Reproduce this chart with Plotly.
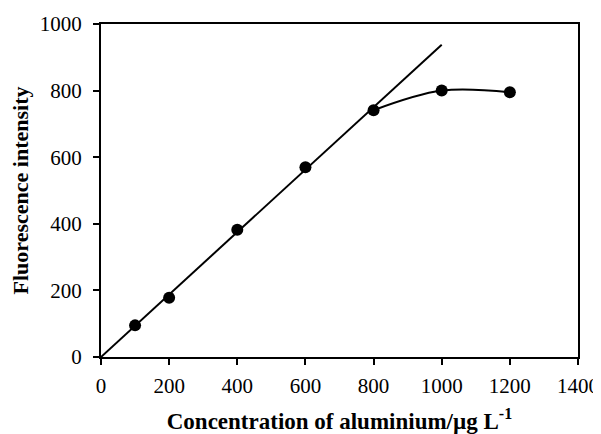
import plotly.graph_objects as go

# Data
conc = [100, 200, 400, 600, 800, 1000, 1200]
intensity = [95, 178, 382, 570, 741, 800, 795]

# Linear calibration line (fit) endpoints
fit_x = [0, 1000]
fit_y = [0, 938]

# Saturation curve section
curve_x = [800, 1000, 1200]
curve_y = [741, 800, 795]

x_ticks = [0, 200, 400, 600, 800, 1000, 1200, 1400]
y_ticks = [0, 200, 400, 600, 800, 1000]

font_family = "Liberation Serif, Times New Roman, serif"

fig = go.Figure()
fig.add_trace(go.Scatter(x=fit_x, y=fit_y, mode="lines",
                         line=dict(color="black", width=2), showlegend=False))
fig.add_trace(go.Scatter(x=curve_x, y=curve_y, mode="lines",
                         line=dict(color="black", width=2, shape="spline", smoothing=1),
                         showlegend=False))
fig.add_trace(go.Scatter(x=conc, y=intensity, mode="markers",
                         marker=dict(color="black", size=12), showlegend=False))

# page body has an 8px margin, so the figure is shrunk and margins adjusted
fig.update_layout(
    width=593, height=426,
    margin=dict(l=93, r=23, t=16, b=77),
    paper_bgcolor="white", plot_bgcolor="white",
    font=dict(family=font_family, color="black", size=21),
)
fig.update_xaxes(
    range=[0, 1400], tickvals=x_ticks, ticktext=[str(v) for v in x_ticks],
    showgrid=False, zeroline=False, showline=True, linecolor="black", linewidth=2,
    mirror=True, ticks="outside", ticklen=6, tickwidth=2, tickcolor="black",
    tickfont=dict(size=21), ticklabelstandoff=3,
    title=dict(text="<b>Concentration of aluminium/µg L<sup>-1</sup></b>",
               font=dict(size=23), standoff=17),
    automargin=False,
)
fig.update_yaxes(
    range=[0, 1000], tickvals=y_ticks, ticktext=[str(v) for v in y_ticks],
    showgrid=False, zeroline=False, showline=True, linecolor="black", linewidth=2,
    mirror=True, ticks="outside", ticklen=6, tickwidth=2, tickcolor="black",
    tickfont=dict(size=21), ticklabelstandoff=7,
    title=dict(text="<b>Fluorescence intensity</b>", font=dict(size=22), standoff=7),
    automargin=False,
)

fig.write_html("out.html")
